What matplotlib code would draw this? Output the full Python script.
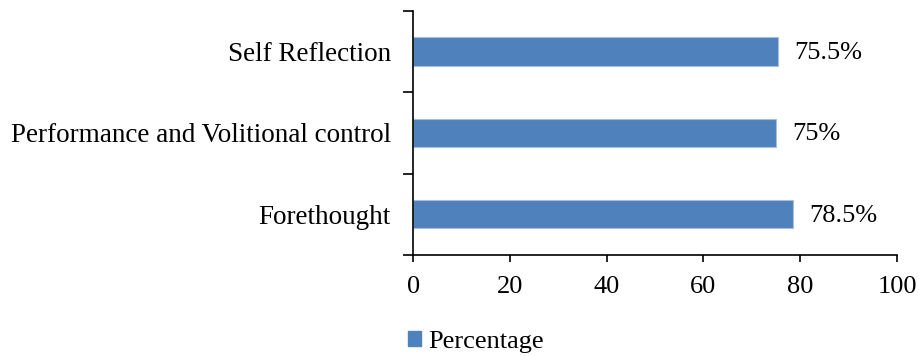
import matplotlib.pyplot as plt
from matplotlib.patches import Patch

plt.rcParams['font.family'] = ['Liberation Serif', 'DejaVu Serif']

categories = ['Forethought', 'Performance and Volitional control', 'Self Reflection']
percentages = [78.5, 75, 75.5]
value_labels = ['78.5%', '75%', '75.5%']
x_ticks = [0, 20, 40, 60, 80, 100]

bar_color = '#4F81BD'
fs = 19

fig = plt.figure(figsize=(9.2, 3.56), dpi=100)
ax = fig.add_axes([0.449, 0.284, 0.526, 0.685])

y = range(len(categories))
ax.barh(y, percentages, height=0.35, color=bar_color,
        edgecolor='#a7bfde', linewidth=0.8)

for yi, val, txt in zip(y, percentages, value_labels):
    ax.annotate(txt, (val, yi), xytext=(11.5, -1), textcoords='offset points',
                ha='left', va='center', fontsize=fs)

ax.set_xlim(0, 100)
ax.set_ylim(-0.5, len(categories) - 0.5)
ax.set_xticks(x_ticks)
ax.set_xticklabels([str(t) for t in x_ticks], fontsize=fs)
ax.tick_params(axis='x', length=5, width=1.2, pad=10)

# category boundaries carry the tick marks, names sit between them
ax.set_yticks([-0.5, 0.5, 1.5, 2.5])
ax.set_yticklabels([])
ax.tick_params(axis='y', which='major', length=7, width=1.2)
ax.set_yticks(list(y), minor=True)
ax.set_yticklabels(categories, minor=True, fontsize=19.5)
ax.tick_params(axis='y', which='minor', length=0, pad=16)

for side in ['top', 'right']:
    ax.spines[side].set_visible(False)
for side in ['left', 'bottom']:
    ax.spines[side].set_linewidth(1.2)

fig.legend(handles=[Patch(color=bar_color, label='Percentage')],
           loc='center left', bbox_to_anchor=(0.443, 0.04), frameon=False,
           fontsize=fs, handlelength=0.5, handleheight=0.5, handletextpad=0.3,
           borderpad=0, borderaxespad=0)

fig.savefig('out.png', dpi=100)
